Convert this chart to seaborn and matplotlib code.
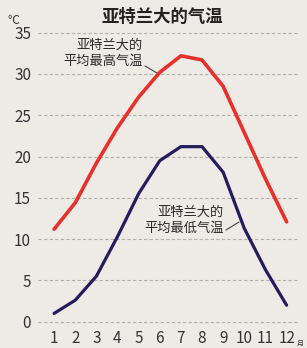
import matplotlib
matplotlib.use("Agg")
import matplotlib.pyplot as plt
import seaborn as sns
import pandas as pd

months = [1, 2, 3, 4, 5, 6, 7, 8, 9, 10, 11, 12]
high_temp = [11.2, 14.4, 19.2, 23.5, 27.2, 30.2, 32.2, 31.7, 28.5, 22.9, 17.3, 12.1]
low_temp = [1.0, 2.6, 5.5, 10.3, 15.5, 19.5, 21.2, 21.2, 18.1, 11.3, 6.3, 2.0]
y_ticks = [0, 5, 10, 15, 20, 25, 30, 35]
title = "亚特兰大的气温"
high_label = "亚特兰大的\n平均最高气温"
low_label = "亚特兰大的\n平均最低气温"

sns.set_style("white")
plt.rcParams['font.family'] = ['Noto Sans CJK SC', 'DejaVu Sans']

bg = "#eeebe6"
fig = plt.figure(figsize=(3.07, 3.48), dpi=100, facecolor=bg)
ax = fig.add_axes([38/307, 26.3/348, 260/307, 289/348])
ax.set_facecolor(bg)

df = pd.DataFrame({"month": months * 2,
                   "temp": high_temp + low_temp,
                   "kind": ["high"] * 12 + ["low"] * 12})

sns.lineplot(data=df[df.kind == "high"], x="month", y="temp", color="#e9302a",
             linewidth=2.6, ax=ax, zorder=3)
sns.lineplot(data=df[df.kind == "low"], x="month", y="temp", color="#231d5c",
             linewidth=2.3, ax=ax, zorder=3)

ax.set_xlim(0.24, 12.54)
ax.set_ylim(0, 35)
ax.set_yticks(y_ticks)
ax.set_xticks(months)
ax.set_xlabel("")
ax.set_ylabel("")
for s in ax.spines.values():
    s.set_visible(False)
for yv in y_ticks:
    ax.axhline(yv, color="#b3b0ab", lw=0.8, ls=(0, (3, 2)), zorder=1, clip_on=False)
ax.tick_params(axis="both", length=0, labelsize=11, colors="#333333")
ax.tick_params(axis="x", pad=6)
ax.tick_params(axis="y", pad=5)

fig.text(162/307, 1 - 17/348, title, ha="center", va="center", fontsize=12.5,
         fontweight="bold", color="#222222")
fig.text(13/307, 1 - 21/348, "℃", ha="center", va="center", fontsize=8.5, color="#333333")
fig.text(300/307, 1 - 344/348, "月", ha="center", va="center", fontsize=5, color="#333333")

fig.text(143/307, 1 - 53/348, high_label, ha="right", va="center", fontsize=9.5,
         color="#2a2a2a", linespacing=1.3, multialignment="right")
fig.text(224/307, 1 - 220/348, low_label, ha="right", va="center", fontsize=9.5,
         color="#2a2a2a", linespacing=1.3, multialignment="right")

fig.add_artist(plt.Line2D([145/307, 157/307], [1 - 66/348, 1 - 73/348],
                          color="#444444", lw=0.8))
fig.add_artist(plt.Line2D([226/307, 239/307], [1 - 230/348, 1 - 222/348],
                          color="#444444", lw=0.8))

fig.savefig("out.png", dpi=100, facecolor=bg)
